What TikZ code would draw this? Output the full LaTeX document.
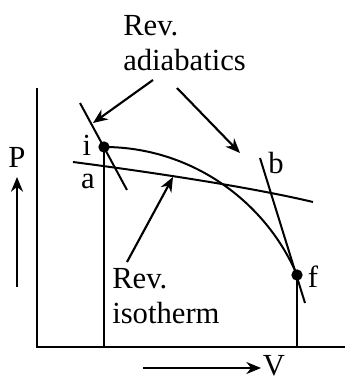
\documentclass[tikz,border=0pt]{standalone}
\usepackage{fontspec}
\setmainfont{Liberation Serif}
\usetikzlibrary{arrows.meta,positioning}
\tikzset{
  pvline/.style={line width=1.5pt},
  pvarrow/.style={line width=1.6pt,-{Stealth[length=11pt,width=9pt]}},
  ptdot/.style={circle,fill,inner sep=0pt,minimum size=8.5pt},
  lbl/.style={font=\fontsize{23}{26}\selectfont,inner sep=0pt},
}

\begin{document}
\begin{tikzpicture}[x=0.75pt,y=-0.75pt]
    \useasboundingbox (0,0) rectangle (345,381);

    %────────── AXES ───────────────
    \coordinate (otop) at (37,88);
    \coordinate (orig) at (37,347);
    \coordinate (xend) at (345,347);
    \draw[pvline] (otop) -- (orig) -- (xend);

    %────────── STATES ─────────────
    \node[ptdot] (i) at (104,147) {};
    \node[ptdot] (f) at (297,275) {};
    \node[lbl] (ilbl) at (87,145) {i};
    \node[lbl] (flbl) at (313,277) {f};
    \coordinate (ifoot) at (104,347);
    \coordinate (ffoot) at (297,347);
    \draw[pvline] (i.center) -- (ifoot);
    \draw[pvline] (f.center) -- (ffoot);

    %────────── PATH i -> f ────────
    \draw[pvline] (i.center) .. controls (190,147) and (265,200) .. (f.center);

    %────────── ADIABATS ───────────
    \coordinate (adA) at (80,103);
    \coordinate (adB) at (127,190);
    \draw[pvline] (adA) -- (adB);
    \coordinate (bA) at (260,158);
    \coordinate (bB) at (305,303);
    \draw[pvline] (bA) -- (bB);
    \node[lbl] (blbl) at (276,163) {b};

    %────────── ISOTHERM ───────────
    \coordinate (isoA) at (73,162);
    \coordinate (isoB) at (313,202);
    \draw[pvline] (isoA) .. controls (150,172) and (250,187) .. (isoB);
    \node[lbl] (albl) at (88,181) {a};

    %────────── LABELS ─────────────
    \node[lbl,align=left,anchor=west] (adlbl) at (123,43) {Rev.\\adiabatics};
    \coordinate (adtip1) at (93,123);
    \coordinate (adtip2) at (240,153);
    \draw[pvarrow] (153,80) -- (adtip1);
    \draw[pvarrow] (177,88) -- (adtip2);

    \node[lbl,align=left,anchor=west] (isolbl) at (112,296) {Rev.\\isotherm};
    \coordinate (isotip) at (173,177);
    \draw[pvarrow] (127,262) -- (isotip);

    %────────── AXIS NAMES ─────────
    \node[lbl] (plbl) at (17,157) {P};
    \draw[pvarrow] (17,287) -- (17,177);
    \node[lbl] (vlbl) at (274,366) {V};
    \draw[pvarrow] (143,368) -- (261,368);
\end{tikzpicture}
\end{document}
